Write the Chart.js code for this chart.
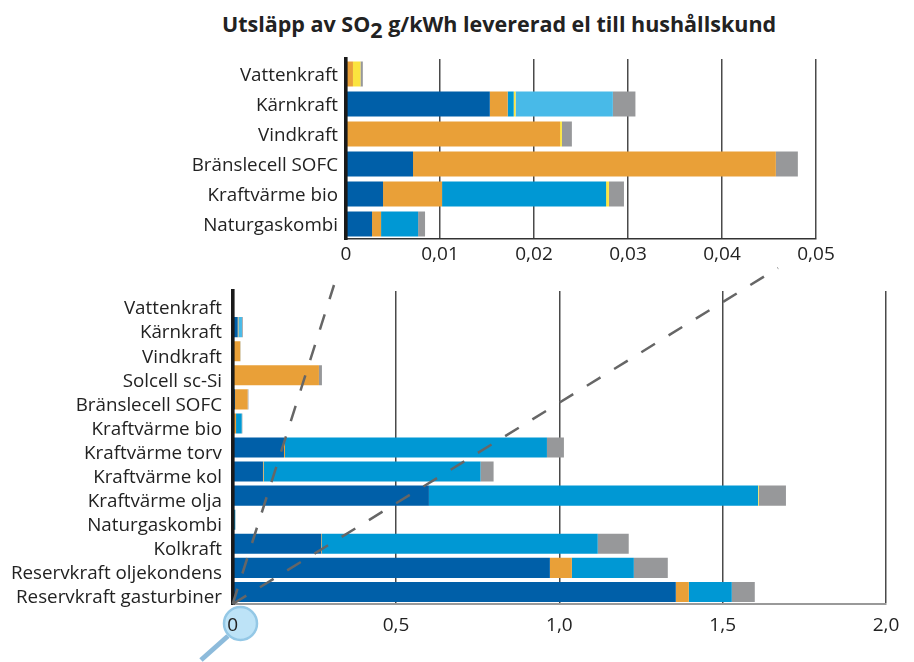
<!DOCTYPE html>
<html>
<head>
<meta charset="utf-8">
<title>Utsläpp av SO2</title>
<script src="https://cdn.jsdelivr.net/npm/chart.js@4"></script>
<style>
  html, body { margin: 0; padding: 0; background: #fff; }
  #pagina { position: relative; width: 914px; height: 662px; overflow: hidden; }
  #titulo { position: absolute; left: 0; top: 9px; width: 998px; text-align: center; font: bold 21.5px "Open Sans", sans-serif; color: #222; white-space: nowrap; }
  #titulo sub { font-size: 21.5px; line-height: 0; vertical-align: -6px; }
  canvas { position: absolute; left: 0; }
  #graficaArriba { top: 0; }
  #graficaAbajo { top: 0; }
</style>
</head>
<body>
<div id="pagina">
  <div id="titulo">Utsläpp av SO<sub>2</sub> g/kWh levererad el till hushållskund</div>
  <canvas id="graficaArriba" width="914" height="269"></canvas>
  <canvas id="graficaAbajo" width="914" height="662"></canvas>
</div>
<script>
//datos grafica de arriba
var categoriasArriba = [ 'Vattenkraft', 'Kärnkraft', 'Vindkraft', 'Bränslecell SOFC', 'Kraftvärme bio', 'Naturgaskombi' ];
var oscuroArriba  = [ 0, 0.0153, 0, 0.00713, 0.00394, 0.00277 ];
var naranjaArriba = [ 0.00074, 0.0019, 0.02277, 0.0386, 0.00628, 0.00096 ];
var medioArriba   = [ 0, 0.00064, 0, 0, 0.01745, 0.00394 ];
var amarilloArriba = [ 0.0008, 0.0002, 0.0002, 0, 0.0003, 0 ];
var claroArriba   = [ 0, 0.01035, 0, 0, 0, 0 ];
var grisArriba    = [ 0.00025, 0.0024, 0.00106, 0.00234, 0.0016, 0.00074 ];
var ticksArriba   = [ '0', '0,01', '0,02', '0,03', '0,04', '0,05' ];

//datos grafica de abajo
var categoriasAbajo = [ 'Vattenkraft', 'Kärnkraft', 'Vindkraft', 'Solcell sc-Si', 'Bränslecell SOFC', 'Kraftvärme bio', 'Kraftvärme torv', 'Kraftvärme kol', 'Kraftvärme olja', 'Naturgaskombi', 'Kolkraft', 'Reservkraft oljekondens', 'Reservkraft gasturbiner' ];
var oscuroAbajo  = [ 0, 0.0153, 0, 0, 0.00713, 0.00394, 0.157, 0.0927, 0.6007, 0.00277, 0.271, 0.971, 1.3565 ];
var naranjaAbajo = [ 0.00074, 0.0019, 0.02277, 0.264, 0.0386, 0.00628, 0.003, 0.002, 0, 0.00096, 0.002, 0.0673, 0.0398 ];
var medioAbajo   = [ 0, 0.00064, 0, 0, 0, 0.01745, 0.802, 0.664, 1.0075, 0.00394, 0.8445, 0.1897, 0.1316 ];
var amarilloAbajo = [ 0.0008, 0.0002, 0.0002, 0, 0, 0.0003, 0, 0, 0.002, 0, 0, 0, 0 ];
var claroAbajo   = [ 0, 0.01035, 0, 0, 0, 0, 0, 0, 0, 0, 0, 0, 0 ];
var grisAbajo    = [ 0.00025, 0.0024, 0.00106, 0.0092, 0.00234, 0.0016, 0.052, 0.04, 0.0835, 0.00074, 0.0949, 0.104, 0.0704 ];
var ticksAbajo   = [ '0', '0,5', '1,0', '1,5', '2,0' ];

var colores = { oscuro: '#005fa8', naranja: '#e9a038', medio: '#0098d4', amarillo: '#fbe43e', claro: '#48bae8', gris: '#97989a' };
var fuente = '"Open Sans", sans-serif';

function serie( datos, color, grosor )
{
  return { data: datos, backgroundColor: color, borderWidth: 0, stack: 'total', categoryPercentage: 1, barPercentage: grosor };
}

function opciones( cfg )
{
  return {
    indexAxis: 'y',
    responsive: false,
    animation: false,
    layout: { padding: { top: cfg.arriba, right: cfg.derecha, left: 0, bottom: 0 } },
    plugins: { legend: { display: false }, tooltip: { enabled: false }, title: { display: false } },
    scales: {
      x: {
        stacked: true,
        min: 0,
        max: cfg.maximo,
        afterBuildTicks: eje => { eje.ticks = cfg.etiquetas.map( ( t, i ) => ( { value: i * cfg.paso } ) ); },
        afterFit: eje => { eje.height = cfg.altoEje; },
        grid: { color: '#4a4a4a', lineWidth: 1.5, drawTicks: false, z: -1 },
        border: { display: true, color: cfg.colorBase, width: cfg.anchoBase, z: 1 },
        ticks: { color: '#222', padding: cfg.margenEje, maxRotation: 0, autoSkip: false, font: { family: fuente, size: 19 }, callback: ( v, i ) => cfg.etiquetas[ i ] }
      },
      y: {
        stacked: true,
        afterFit: eje => { eje.width = cfg.izquierda; },
        grid: { display: false },
        border: { display: true, color: '#1a1a1a', width: 3.6, z: 1 },
        ticks: { color: '#222', padding: cfg.margenTexto, labelOffset: cfg.bajada, autoSkip: false, font: { family: fuente, size: 18.8 } }
      }
    }
  };
}

function series( listas, grosor )
{
  return [
    serie( listas[ 0 ], colores.oscuro, grosor ),
    serie( listas[ 1 ], colores.naranja, grosor ),
    serie( listas[ 2 ], colores.medio, grosor ),
    serie( listas[ 3 ], colores.amarillo, grosor ),
    serie( listas[ 4 ], colores.claro, grosor ),
    serie( listas[ 5 ], colores.gris, grosor )
  ];
}

//lupa y lineas punteadas, no son datos
var adornos = {
  id: 'adornos',
  beforeDraw( chart )
  {
    let ctx = chart.ctx;
    ctx.save( );
    ctx.strokeStyle = '#8dbbdb';
    ctx.lineWidth = 5;
    ctx.beginPath( );
    ctx.moveTo( 228, 636 );
    ctx.lineTo( 201, 660 );
    ctx.stroke( );
    ctx.fillStyle = '#bde3f7';
    ctx.strokeStyle = '#94c8e6';
    ctx.lineWidth = 2.5;
    ctx.beginPath( );
    ctx.arc( 240.5, 623.5, 16.5, 0, Math.PI * 2 );
    ctx.fill( );
    ctx.stroke( );
    ctx.restore( );
  },
  afterDraw( chart )
  {
    let ctx = chart.ctx;
    let x0 = chart.scales.x.getPixelForValue( 0 );
    let y0 = chart.chartArea.bottom;
    ctx.save( );
    ctx.strokeStyle = '#666';
    ctx.lineWidth = 2.5;
    ctx.setLineDash( [ 16, 16 ] );
    [ [ 334, 285 ], [ 778, 268 ] ].forEach( fin =>
    {
      ctx.beginPath( );
      ctx.moveTo( x0, y0 );
      ctx.lineTo( fin[ 0 ], fin[ 1 ] );
      ctx.stroke( );
    });
    ctx.restore( );
  }
};

var graficaArriba = new Chart( document.getElementById( 'graficaArriba' ),
{
  type: 'bar',
  data: {
    labels: categoriasArriba,
    datasets: series( [ oscuroArriba, naranjaArriba, medioArriba, amarilloArriba, claroArriba, grisArriba ], 25 / 30 )
  },
  options: opciones({ arriba: 59, derecha: 98, izquierda: 346, altoEje: 30, maximo: 0.05, paso: 0.01, etiquetas: ticksArriba, colorBase: '#333', anchoBase: 1.5, margenTexto: 0, margenEje: 4, bajada: 2 })
});

var graficaAbajo = new Chart( document.getElementById( 'graficaAbajo' ),
{
  type: 'bar',
  data: {
    labels: categoriasAbajo,
    datasets: series( [ oscuroAbajo, naranjaAbajo, medioAbajo, amarilloAbajo, claroAbajo, grisAbajo ], 20 / 24 )
  },
  options: opciones({ arriba: 291, derecha: 28, izquierda: 232.7, altoEje: 58, maximo: 2, paso: 0.5, etiquetas: ticksAbajo, colorBase: '#999', anchoBase: 2, margenTexto: 2.7, margenEje: 10, bajada: 6 }),
  plugins: [ adornos ]
});
</script>
</body>
</html>
